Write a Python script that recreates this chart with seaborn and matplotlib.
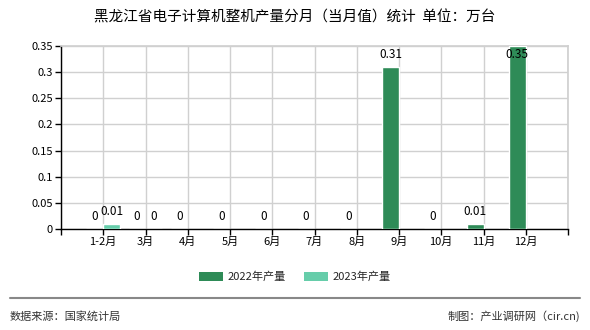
import matplotlib
matplotlib.use("Agg")
import matplotlib.pyplot as plt
import seaborn as sns
import pandas as pd
from matplotlib.patches import Patch
from matplotlib.lines import Line2D

months = ["1-2月", "3月", "4月", "5月", "6月", "7月", "8月", "9月", "10月", "11月", "12月"]
values_2022 = [0, 0, 0, 0, 0, 0, 0, 0.31, 0, 0.01, 0.35]
values_2023 = [0.01, 0, None, None, None, None, None, None, None, None, None]
series_names = ["2022年产量", "2023年产量"]
colors = ["#2E8B57", "#66CDAA"]
yticks = [0, 0.05, 0.1, 0.15, 0.2, 0.25, 0.3, 0.35]
title = "黑龙江省电子计算机整机产量分月（当月值）统计  单位：万台"
source = "数据来源：国家统计局"
credit = "制图：产业调研网（cir.cn)"

rows = []
for m, v in zip(months, values_2022):
    if v is not None:
        rows.append({"month": m, "series": series_names[0], "value": v})
for m, v in zip(months, values_2023):
    if v is not None:
        rows.append({"month": m, "series": series_names[1], "value": v})
df = pd.DataFrame(rows)

sns.set_theme(style="white")
plt.rcParams["font.family"] = ["Noto Sans CJK SC", "DejaVu Sans"]

fig = plt.figure(figsize=(5.9, 3.3), dpi=100)
ax = fig.add_axes([61/590, 1-229/330, (568-61)/590, (229-46)/330])

sns.barplot(data=df, x="month", y="value", hue="series", order=months,
            hue_order=series_names, palette=colors, width=0.8, dodge=True,
            saturation=1, ax=ax, legend=False, zorder=3)

ax.set_xlim(-1, len(months))
ax.set_ylim(0, 0.35)
ax.set_yticks(yticks)
ax.set_yticklabels([f"{t:g}" for t in yticks], fontsize=8)
ax.set_xticks(range(-1, len(months) + 1))
ax.set_xticklabels([""] + months + [""], fontsize=8)
ax.grid(True, color="#d0d0d0", linewidth=1, zorder=0)
ax.set_axisbelow(True)
for s in ["top", "right"]:
    ax.spines[s].set_color("#d0d0d0")
for s in ["left", "bottom"]:
    ax.spines[s].set_color("black")
    ax.spines[s].set_linewidth(1)
ax.tick_params(axis="both", direction="out", length=4, width=1, color="black",
               labelcolor="black", pad=2, bottom=True, left=True)
ax.set_xlabel("")
ax.set_ylabel("")

# value labels
for bars, vals in zip(ax.containers, [values_2022, values_2023]):
    present = [v for v in vals if v is not None]
    for rect, v in zip(bars, present):
        x = rect.get_x() + rect.get_width() / 2
        y = min(v + 0.024, 0.334)
        ax.text(x, y, f"{v:g}", ha="center", va="center", fontsize=8.5, color="black", zorder=5)

fig.text(0.5, 1 - 17/330, title, ha="center", va="center", fontsize=10.5, color="black")

handles = [Patch(facecolor=c, edgecolor="none") for c in colors]
fig.legend(handles, series_names, loc="center", bbox_to_anchor=(0.5, 1 - 277/330),
           ncol=2, frameon=False, fontsize=8, handlelength=2.2, handleheight=0.8,
           columnspacing=1.6, handletextpad=0.4)

fig.add_artist(Line2D([10/590, 580/590], [1 - 298/330] * 2, color="#888888", linewidth=1.5))
fig.text(10/590, 1 - 316/330, source, ha="left", va="center", fontsize=8, color="#333333")
fig.text(580/590, 1 - 316/330, credit, ha="right", va="center", fontsize=8, color="#333333")

fig.savefig("out.png", dpi=100)
